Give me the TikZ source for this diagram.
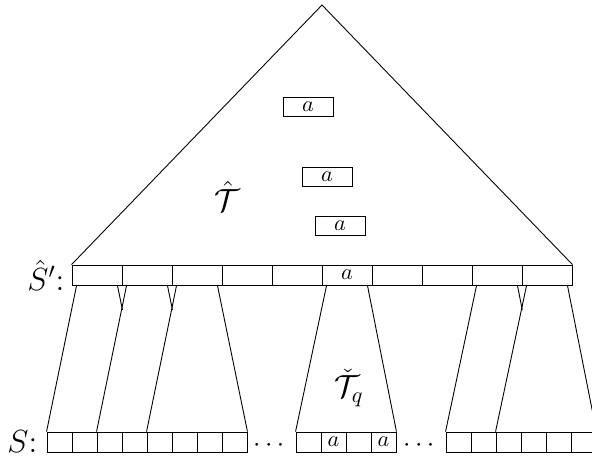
\documentclass[tikz,border=0pt]{standalone}
\usepackage{amsmath,amssymb}
\usetikzlibrary{positioning,calc}

\begin{document}
\begin{tikzpicture}[
    x=0.45pt, y=-0.45pt,
    cell/.style={draw, minimum width=22.5pt, minimum height=9pt, inner sep=0pt},
    leaf/.style={cell, minimum width=11.25pt},
    tag/.style={draw, minimum width=22.5pt, minimum height=8.55pt, inner sep=0pt},
    lbl/.style={font=\Large, inner sep=0pt},
    dots/.style={font=\large, inner sep=0pt}
]
  \clip (0,0) rectangle (592,460);

  % top row S'
  \foreach \i in {1,...,10}
    \node[cell] (h\i) at (47+50*\i,275) {\ifnum\i=6 $a$\fi};
  \coordinate (apex) at (322,5);
  \draw (h1.north west) -- (apex) -- (h10.north east);

  % bottom row S
  \foreach \j in {1,...,8}
    \node[leaf] (s\j) at (34.5+25*\j,442) {};
  \foreach \j in {1,...,4}
    \node[leaf] (m\j) at (283.5+25*\j,442) {\ifodd\j\else $a$\fi};
  \foreach \j in {1,...,6}
    \node[leaf] (r\j) at (433.5+25*\j,442) {};
  \node[dots] (d1) at (271,446) {$\cdots$};
  \node[dots] (d2) at (421,446) {$\cdots$};

  % the copies of a inside T
  \node[tag] (a1) at (308,107) {$a$};
  \node[tag] (a2) at (327,176.5) {$a$};
  \node[tag] (a3) at (340,226) {$a$};

  \node[lbl, left=3pt of h1] (lh) {$\hat{S}'$:};
  \node[lbl, left=4pt of s1] (ls) {$S$:};
  \node[lbl] (T) at (227,196) {$\hat{\mathcal{T}}$};
  \node[lbl] (Tq) at (349,388) {$\check{\mathcal{T}}_q$};

  % trapezoids below the cells of S'
  \foreach \i in {1,2,3,6,9,10} {
    \coordinate (hl\i) at ($(h\i.south west)+(5,0)$);
    \coordinate (hr\i) at ($(h\i.south east)+(-5,0)$);
  }
  \coordinate (y1) at ($(hr1)!1/6!(s4.north east)$);
  \coordinate (y2) at ($(hr2)!1/6!(s6.north east)$);
  \coordinate (y9) at ($(hr9)!1/6!(r4.north east)$);

  \draw (hl1) -- (s1.north west);
  \draw (hr1) -- (y1);
  \draw (hl2) -- (s3.north west);
  \draw (hr2) -- (y2);
  \draw (hl3) -- (s5.north west);
  \draw (hr3) -- (s8.north east);
  \draw (hl6) -- (m1.north west);
  \draw (hr6) -- (m4.north east);
  \draw (hl9) -- (r1.north west);
  \draw (hr9) -- (y9);
  \draw (hl10) -- (r3.north west);
  \draw (hr10) -- (r6.north east);
\end{tikzpicture}
\end{document}
